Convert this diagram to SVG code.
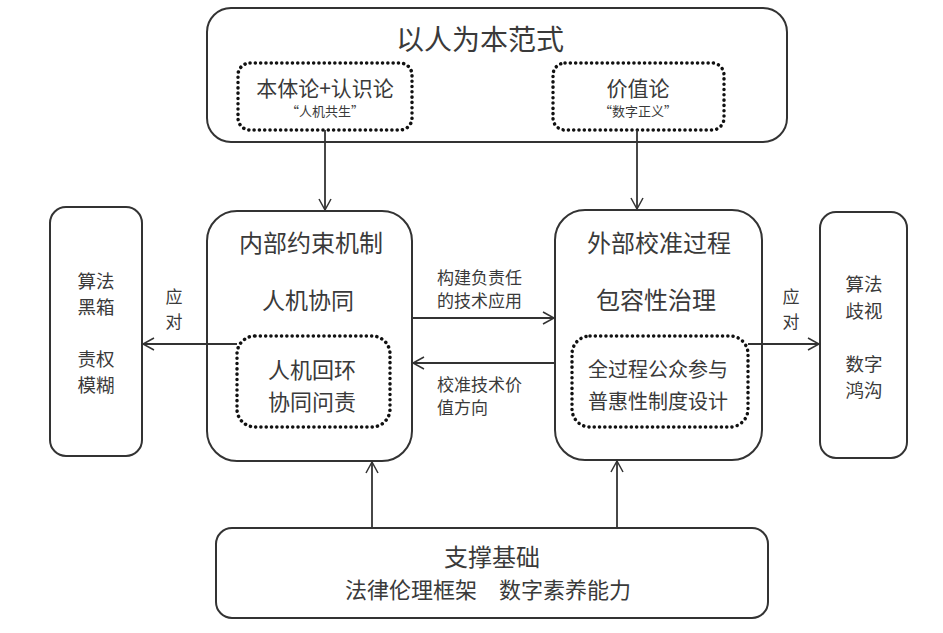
<svg xmlns="http://www.w3.org/2000/svg" width="943" height="633" viewBox="0 0 943 633">
<defs>
<marker id="arr" markerWidth="14" markerHeight="14" refX="12" refY="7" orient="auto" markerUnits="userSpaceOnUse">
<path d="M1,1 L12,7 L1,13" fill="none" stroke="#333" stroke-width="1.5"/>
</marker>
<style>
.box{fill:#fff;stroke:#333;stroke-width:2}
.dot{fill:none;stroke:#111;stroke-width:3.5;stroke-dasharray:0.1 5.2;stroke-linecap:round}
.ln{stroke:#333;stroke-width:1.8;fill:none}
text{font-family:"Noto Sans CJK SC","Liberation Sans",sans-serif;fill:#3a3a3a;text-anchor:middle}
.t28{font-size:28px}
.t25{font-size:24px}
.t23{font-size:23px}
.t22{font-size:22px}
.t21{font-size:21px}
.t20{font-size:20px}
.t19{font-size:18.5px}
.t18{font-size:17px}
.t13{font-size:13px}
.lft{text-anchor:start}
</style>
</defs>
<rect width="943" height="633" fill="#fff"/>

<g id="top">
<rect class="box" x="207" y="8" width="580" height="134" rx="24"/>
<text class="t28" x="480" y="50">以人为本范式</text>
</g>
<g id="ontology">
<rect class="dot" x="238" y="63" width="174" height="67" rx="12"/>
<text class="t21" x="325" y="96">本体论+认识论</text>
<text class="t13" x="325" y="116">“人机共生”</text>
</g>
<g id="value">
<rect class="dot" x="553" y="63" width="171" height="67" rx="12"/>
<text class="t21" x="638" y="96">价值论</text>
<text class="t13" x="638" y="116">“数字正义”</text>
</g>

<g id="left-issue">
<rect class="box" x="50" y="207" width="92" height="249" rx="16"/>
<text class="t19" x="96" y="288"><tspan x="96">算法</tspan><tspan x="96" dy="26">黑箱</tspan></text>
<text class="t19" x="96" y="366"><tspan x="96">责权</tspan><tspan x="96" dy="26">模糊</tspan></text>
</g>

<g id="internal">
<rect class="box" x="207" y="211" width="205" height="250" rx="30"/>
<text class="t25" x="311" y="252">内部约束机制</text>
<text class="t23" x="308" y="309">人机协同</text>
</g>
<g id="internal-inner">
<rect class="dot" x="237" y="336" width="153" height="91" rx="18"/>
<text class="t22" x="312" y="378"><tspan x="312">人机回环</tspan><tspan x="312" dy="32">协同问责</tspan></text>
</g>

<g id="external">
<rect class="box" x="555" y="210" width="207" height="250" rx="30"/>
<text class="t25" x="659" y="252">外部校准过程</text>
<text class="t25" x="656" y="309">包容性治理</text>
</g>
<g id="external-inner">
<rect class="dot" x="572" y="336" width="176" height="91" rx="18"/>
<text class="t20" x="658" y="377"><tspan x="658">全过程公众参与</tspan><tspan x="658" dy="32">普惠性制度设计</tspan></text>
</g>

<g id="right-issue">
<rect class="box" x="820" y="212" width="87" height="246" rx="16"/>
<text class="t19" x="864" y="291"><tspan x="864">算法</tspan><tspan x="864" dy="27">歧视</tspan></text>
<text class="t19" x="864" y="371"><tspan x="864">数字</tspan><tspan x="864" dy="26">鸿沟</tspan></text>
</g>

<g id="base">
<rect class="box" x="216" y="528" width="552" height="90" rx="16"/>
<text class="t25" x="492" y="566">支撑基础</text>
<text class="t22" x="488" y="598" xml:space="preserve">法律伦理框架　数字素养能力</text>
</g>

<g id="connectors">
<line class="ln" x1="325" y1="130" x2="325" y2="210" marker-end="url(#arr)"/>
<line class="ln" x1="637" y1="130" x2="637" y2="209" marker-end="url(#arr)"/>
<line class="ln" x1="237" y1="344" x2="143" y2="344" marker-end="url(#arr)"/>
<line class="ln" x1="748" y1="344" x2="819" y2="344" marker-end="url(#arr)"/>
<line class="ln" x1="412" y1="318" x2="554" y2="318" marker-end="url(#arr)"/>
<line class="ln" x1="555" y1="363" x2="413" y2="363" marker-end="url(#arr)"/>
<line class="ln" x1="372" y1="528" x2="372" y2="462" marker-end="url(#arr)"/>
<line class="ln" x1="617" y1="528" x2="617" y2="461" marker-end="url(#arr)"/>
<text class="t18" x="174" y="303"><tspan x="174">应</tspan><tspan x="174" dy="25">对</tspan></text>
<text class="t18" x="791" y="303"><tspan x="791">应</tspan><tspan x="791" dy="25">对</tspan></text>
<text class="t18 lft" x="437" y="284"><tspan x="437">构建负责任</tspan><tspan x="437" dy="23">的技术应用</tspan></text>
<text class="t18 lft" x="437" y="391"><tspan x="437">校准技术价</tspan><tspan x="437" dy="23">值方向</tspan></text>
</g>
</svg>
